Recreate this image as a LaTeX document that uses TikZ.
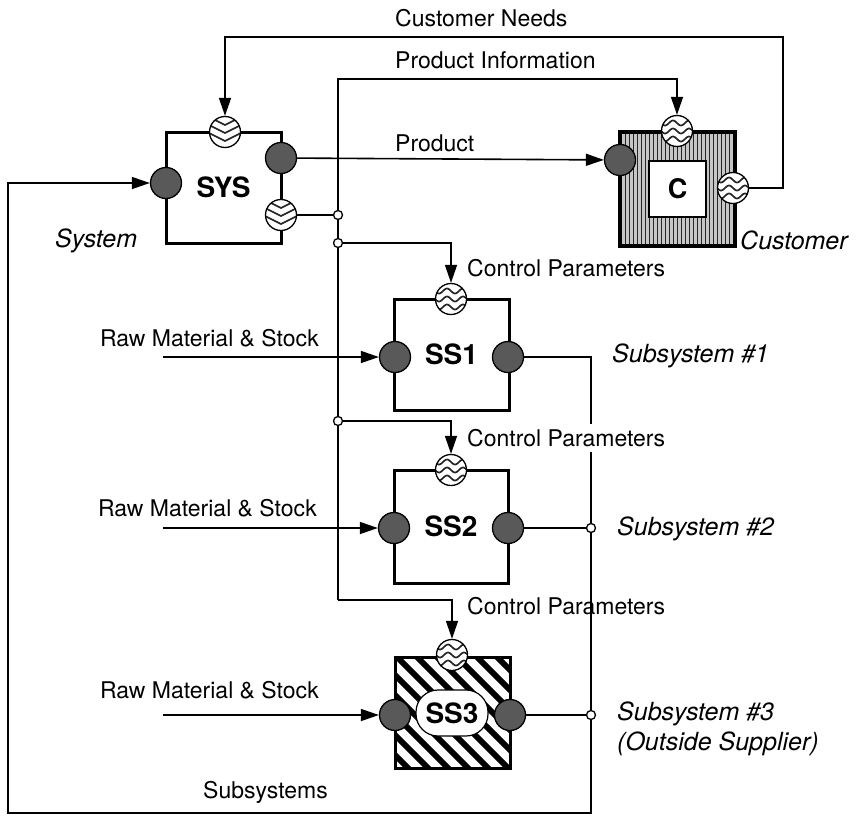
\documentclass[tikz,border=0pt]{standalone}
\usepackage{fontspec}
\setmainfont{TeX Gyre Heros}
\usetikzlibrary{arrows.meta}
\begin{document}
\begin{tikzpicture}[x=1pt,y=-1pt,
  every node/.style={font=\fontsize{23}{26}\selectfont},
  conn/.style={line width=1.6},
  arr/.style={conn,-{Triangle[length=18,width=12]}},
  box/.style={draw,line width=3,minimum width=115,minimum height=111,inner sep=0,
    font=\fontsize{28}{30}\selectfont\bfseries},
  fport/.style={circle,draw,line width=1.3,fill=black!65,minimum size=31,inner sep=0},
  wport/.style={circle,draw,line width=1.3,fill=white,minimum size=31,inner sep=0,
    path picture={\foreach \dy in {-8,0,8}{\draw[line width=1.7,black!85,shift={(path picture bounding box.center)}]
      plot[domain=-16:16,samples=30,smooth] (\x,{\dy+2.5*sin(\x*22.5)});}}},
  cport/.style={circle,draw,line width=1.3,fill=white,minimum size=31,inner sep=0,
    path picture={\foreach \dy in {-10,-2,6}{\draw[line width=1.7,black!85,shift={(path picture bounding box.center)}]
      (-16,\dy-5) -- (0,\dy+3) -- (16,\dy-5);}}},
  junc/.style={circle,draw,line width=1.3,fill=white,minimum size=9,inner sep=0},
  lab/.style={anchor=west,inner sep=0},
  ilab/.style={anchor=west,inner sep=0,font=\fontsize{25}{28}\selectfont\itshape}]
\useasboundingbox (0,0) rectangle (856,816);

% boxes
\node[box] (sys) at (223.5,187.5) {SYS};
\node[box,line width=3.5,minimum height=114,fill=gray!45,
  path picture={\foreach \i in {-60,-56,...,60}{\draw[line width=1.5,black!85,shift={(path picture bounding box.center)}] (\i,-70) -- (\i,70);}}]
  (cust) at (677.5,189) {};
\node[draw,fill=white,line width=1.2,minimum width=57,minimum height=56,inner sep=0,
  font=\fontsize{27}{30}\selectfont\bfseries] (cin) at (677.5,189) {C};
\node[box] (ss1) at (451.5,354.5) {SS1};
\node[box,minimum height=113,minimum width=114] (ss2) at (451,526.5) {SS2};
\node[box,fill=white,
  path picture={\foreach \i in {-200,-180,...,200}{\draw[line width=6,shift={(path picture bounding box.center)}] (\i-80,-80) -- (\i+80,80);}}]
  (ss3) at (452.5,712.5) {};
\node[draw,fill=white,line width=1.2,rounded corners=22,minimum width=72,minimum height=46,inner sep=0,
  font=\fontsize{28}{30}\selectfont\bfseries] (ss3in) at (452,713) {SS3};

% ports
\node[fport] (sysL) at (166,183) {};
\node[cport] (sysT) at (225,132) {};
\node[fport] (sysR1) at (281,158) {};
\node[cport] (sysR2) at (281,215) {};
\node[fport] (cL) at (620,160) {};
\node[wport] (cT) at (677,131) {};
\node[wport] (cR) at (733,188) {};
\node[fport] (s1L) at (395,357) {};
\node[fport] (s1R) at (508,357) {};
\node[wport] (s1T) at (451,299) {};
\node[fport] (s2L) at (394,528) {};
\node[fport] (s2R) at (508,528) {};
\node[wport] (s2T) at (451,470) {};
\node[fport] (s3L) at (395,715) {};
\node[fport] (s3R) at (510,715) {};
\node[wport] (s3T) at (452,655) {};

% coordinates
\coordinate (j1) at (338,215);
\coordinate (j2) at (338,243);
\coordinate (j3) at (338,421);
\coordinate (j4) at (591,528);
\coordinate (j5) at (591,715);
\coordinate (vt) at (338,79);
\coordinate (vb) at (338,600);
\coordinate (cn) at (783,37);
\coordinate (bl) at (8,813);
\coordinate (rm1) at (163,357);
\coordinate (rm2) at (163,528);
\coordinate (rm3) at (163,715);

% connectors
\draw[arr] (cR) -| (cn) -| (sysT);
\draw[arr] (vb) -- (vt) -| (cT);
\draw[arr] (sysR1) -- (cL);
\draw[conn] (sysR2) -- (j1);
\draw[arr] (j2) -| (s1T);
\draw[arr] (j3) -| (s2T);
\draw[arr] (vb) -| (s3T);
\draw[arr] (rm1) -- (s1L);
\draw[arr] (rm2) -- (s2L);
\draw[arr] (rm3) -- (s3L);
\draw[conn] (s1R) -| (j4);
\draw[conn] (s2R) -- (j4);
\draw[conn] (s3R) -- (j5);
\draw[arr] (j4) -- (j5) |- (bl) |- (sysL);

% junctions
\node[junc] at (j1) {};
\node[junc] at (j2) {};
\node[junc] at (j3) {};
\node[junc] at (j4) {};
\node[junc] at (j5) {};

% labels
\node[lab] at (395,18) {Customer Needs};
\node[lab] at (395,60) {Product Information};
\node[lab] at (395,143) {Product};
\node[lab] at (467,268) {Control Parameters};
\node[lab,fill=white,inner ysep=5] at (467,438) {Control Parameters};
\node[lab] at (467,606) {Control Parameters};
\node[lab] at (100,338) {Raw Material \& Stock};
\node[lab] at (98,508) {Raw Material \& Stock};
\node[lab] at (100,690) {Raw Material \& Stock};
\node[lab] at (203,792) {Subsystems};
\node[ilab] at (55,241) {System};
\node[ilab] at (740,240) {Customer};
\node[ilab] at (612,356) {Subsystem \#1};
\node[ilab] at (617,529) {Subsystem \#2};
\node[ilab] at (617,714) {Subsystem \#3};
\node[ilab] at (617,744) {(Outside Supplier)};
\end{tikzpicture}
\end{document}
